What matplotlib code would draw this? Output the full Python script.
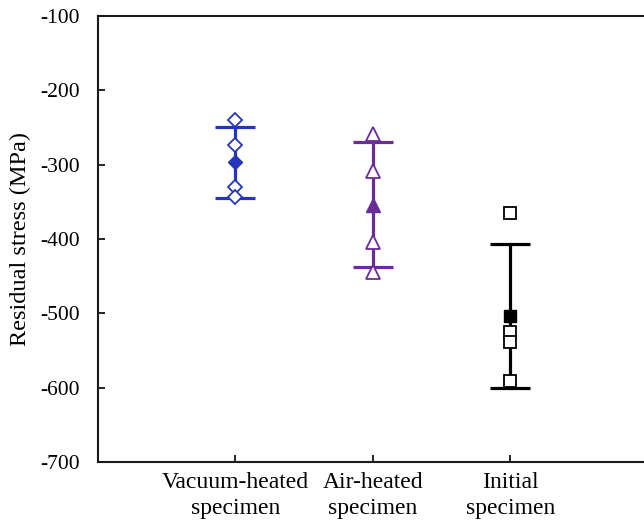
import numpy as np
import matplotlib
matplotlib.use("Agg")
import matplotlib.pyplot as plt

plt.rcParams['font.family'] = ['Liberation Serif', 'DejaVu Serif']
plt.rcParams['axes.unicode_minus'] = False

# categories and measured values (MPa)
categories = ['Vacuum-heated\nspecimen', 'Air-heated\nspecimen', 'Initial\nspecimen']
vacuum_pts = [-240, -274, -330, -344]
air_pts = [-259, -309, -404, -445]
initial_pts = [-365, -525, -538, -591]
means = [-297, -354, -504]
errs = [48, 84, 97]

colors = ['#2337b8', '#6b2c9b', '#000000']
markers = ['D', '^', 's']
sizes = [7.5, 9.5, 8.5]

fig = plt.figure(figsize=(6.44, 5.2), dpi=100)
ax = fig.add_axes([98/644, 58/520, 550/644, 446/520])

groups = [vacuum_pts, air_pts, initial_pts]
for i, pts in enumerate(groups):
    x = i + 1
    # mean +/- spread
    ax.errorbar(x, means[i], yerr=errs[i], color=colors[i], lw=2.3,
                capsize=14.5, capthick=2.3, fmt='none', zorder=2)
    # individual measurements
    ax.plot([x]*len(pts), pts, linestyle='none', marker=markers[i],
            ms=sizes[i], mfc='white', mec=colors[i], mew=1.3, zorder=3)
    # mean value
    ax.plot(x, means[i], linestyle='none', marker=markers[i],
            ms=sizes[i], color=colors[i], zorder=4)

ax.set_xlim(0, 4)
ax.set_ylim(-700, -100)
ax.set_yticks(np.arange(-700, 0, 100))
ax.set_xticks([1, 2, 3])
ax.set_xticklabels(categories, fontsize=17, linespacing=1.3)
ax.tick_params(axis='y', direction='in', length=5, width=1.2, pad=13, labelsize=15.5)
ax.tick_params(axis='x', direction='in', length=5, width=1.2, pad=7)
ax.set_ylabel('Residual stress (MPa)', fontsize=17.5, labelpad=7)

for s in ['left', 'top', 'bottom', 'right']:
    ax.spines[s].set_linewidth(1.5)
    ax.spines[s].set_color('#1a1a1a')

fig.savefig('out.png', dpi=100)
